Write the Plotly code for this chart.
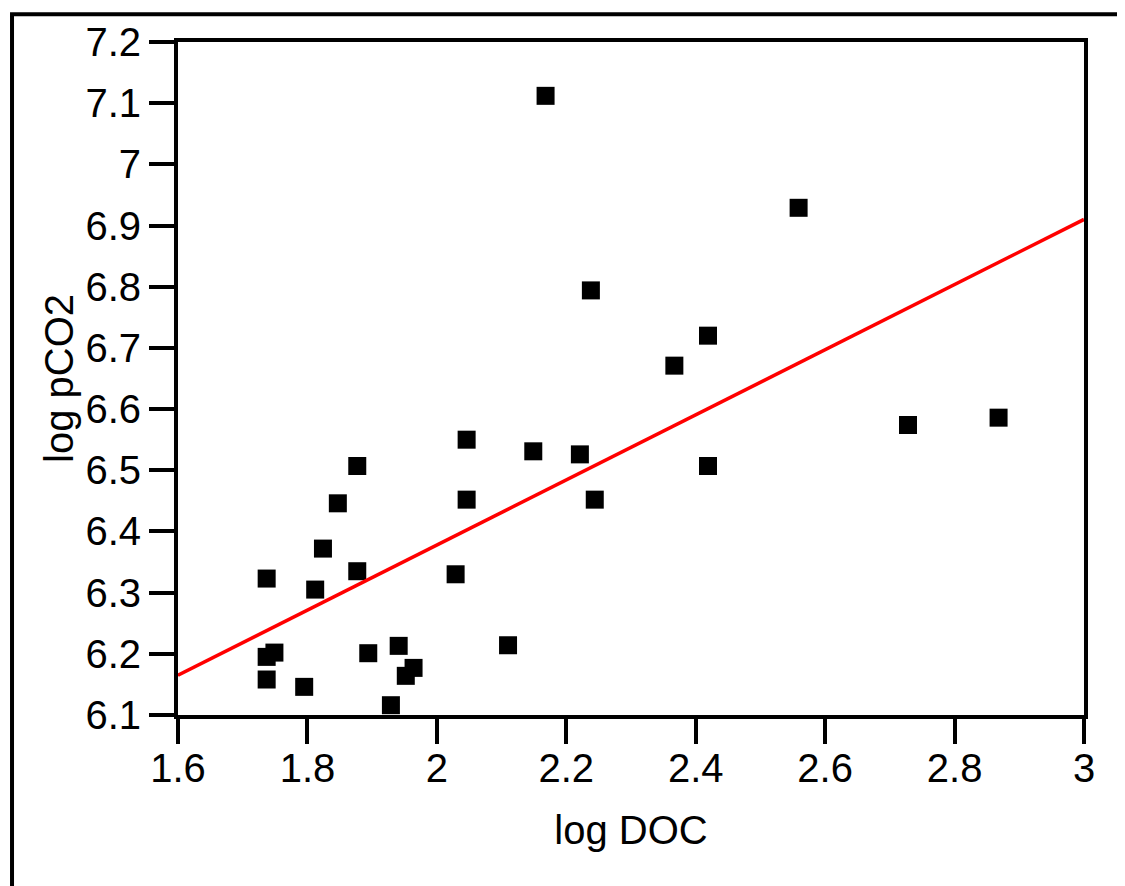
import plotly.graph_objects as go

# scatter values
log_doc = [1.737, 1.737, 1.749, 1.737, 1.795, 1.812, 1.824, 1.847, 1.877, 1.877,
           1.894, 1.929, 1.941, 1.952, 1.964, 2.029, 2.046, 2.046, 2.110, 2.149,
           2.168, 2.221, 2.238, 2.244, 2.367, 2.419, 2.419, 2.559, 2.728, 2.868]
log_pco2 = [6.323, 6.195, 6.202, 6.158, 6.146, 6.305, 6.372, 6.446, 6.507, 6.335,
            6.201, 6.116, 6.213, 6.164, 6.177, 6.330, 6.550, 6.452, 6.214, 6.531,
            7.112, 6.526, 6.794, 6.452, 6.671, 6.720, 6.507, 6.929, 6.574, 6.586]

# regression line end points
fit_x = [1.6, 3.0]
fit_y = [6.165, 6.910]

x_ticks = [1.6, 1.8, 2.0, 2.2, 2.4, 2.6, 2.8, 3.0]
x_labels = ["1.6", "1.8", "2", "2.2", "2.4", "2.6", "2.8", "3"]
y_ticks = [6.1, 6.2, 6.3, 6.4, 6.5, 6.6, 6.7, 6.8, 6.9, 7.0, 7.1, 7.2]
y_labels = ["6.1", "6.2", "6.3", "6.4", "6.5", "6.6", "6.7", "6.8", "6.9", "7", "7.1", "7.2"]

font_family = "Arial, Liberation Sans, Helvetica, sans-serif"
text_font = dict(family=font_family, size=40, color="black")

fig = go.Figure()

fig.add_trace(go.Scatter(
    x=log_doc, y=log_pco2,
    mode="markers",
    marker=dict(symbol="square", size=18, color="black"),
    cliponaxis=False,
    showlegend=False,
))

fig.add_trace(go.Scatter(
    x=fit_x, y=fit_y,
    mode="lines",
    line=dict(color="#ff0000", width=3.5),
    showlegend=False,
))

axis_style = dict(
    showline=True, linecolor="black", linewidth=4, mirror=True,
    ticks="outside", ticklen=25, tickwidth=4, tickcolor="black",
    showgrid=False, zeroline=False,
    tickfont=text_font,
)

fig.update_xaxes(
    range=[1.6, 3.0], tickvals=x_ticks, ticktext=x_labels,
    ticklabelstandoff=-10,
    title=dict(text="log DOC", font=text_font, standoff=28),
    **axis_style,
)
fig.update_yaxes(
    range=[6.1, 7.2], tickvals=y_ticks, ticktext=y_labels,
    title=dict(text="log pCO2", font=text_font, standoff=0),
    **axis_style,
)

# outer frame (only top and left edges show inside the picture)
fig.add_shape(
    type="rect", xref="paper", yref="paper",
    x0=-0.1832, x1=2.0, y0=-1.0, y1=1.0412,
    line=dict(color="black", width=4),
)

fig.update_layout(
    width=1125, height=886,
    margin=dict(l=170, r=49, t=28, b=179),
    plot_bgcolor="white", paper_bgcolor="white",
    font=dict(family=font_family, color="black"),
)

fig.write_html("out.html")
